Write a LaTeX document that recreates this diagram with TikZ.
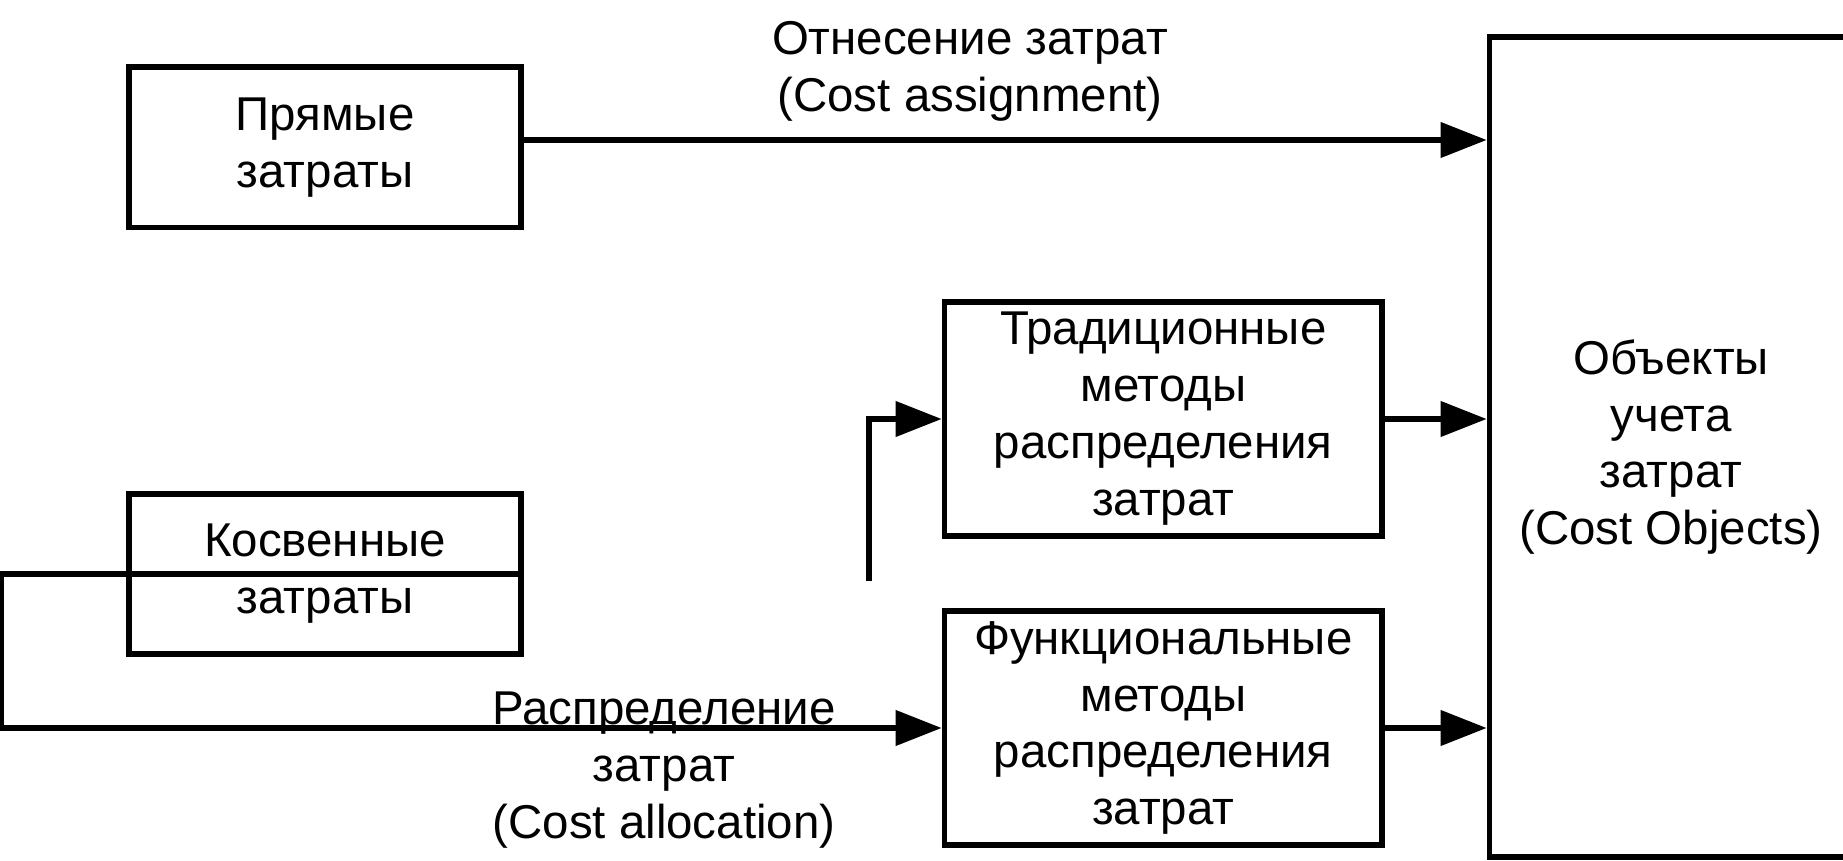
\documentclass[tikz,border=0pt]{standalone}
\usepackage{fontspec}
\setmainfont{Liberation Sans}
\usetikzlibrary{arrows.meta}

\begin{document}
\begin{tikzpicture}[
  line width=3.2pt,
  box/.style={draw, inner sep=0pt, align=center, font=\fontsize{27}{32.4}\selectfont},
  lbl/.style={inner sep=0pt, align=center, font=\fontsize{27}{32.4}\selectfont},
  arr/.style={-{Triangle[length=0.92cm,width=0.69cm]}}
]

\useasboundingbox (0,0) rectangle (36.86,17.2);

\node[box, minimum width=7.85cm, minimum height=3.21cm] (Prjamye) at (6.5,14.255) {Прямые\\затраты};

\node[box, minimum width=7.85cm, minimum height=3.21cm] (Kosvennye) at (6.5,5.72) {Косвенные\\затраты};

\node[box, minimum width=8.75cm, minimum height=4.68cm] (Tradic) at (23.265,8.82) {Традиционные\\методы\\распределения\\затрат};

\node[box, minimum width=8.75cm, minimum height=4.68cm] (Funkc) at (23.265,2.64) {Функциональные\\методы\\распределения\\затрат};

\node[box, minimum width=7.26cm, minimum height=16.4cm] (Objekty) at (33.42,8.26) {Объекты\\учета\\затрат\\(Cost Objects)};

\node[lbl] (Otnesenie) at (19.4,15.78) {Отнесение затрат\\(Cost assignment)};

\node[lbl] (Raspredelenie) at (13.28,1.8) {Распределение\\затрат\\(Cost allocation)};

\coordinate (Otn) at ([yshift=0.145cm]Prjamye.east);
\draw [arr](Otn) -- (Otn -| Objekty.west);

\draw [arr](Tradic.east) -- (Tradic.east -| Objekty.west);
\draw [arr](Funkc.east) -- (Funkc.east -| Objekty.west);

%% indirect costs go round to the allocation methods
\coordinate (Levo) at (0.02,5.72);
\draw [arr](Kosvennye.east) -- (Levo) |- (Funkc.west);

\coordinate (Otvod) at (17.38,5.58);
\draw [arr](Otvod) |- (Tradic.west);

\end{tikzpicture}
\end{document}
